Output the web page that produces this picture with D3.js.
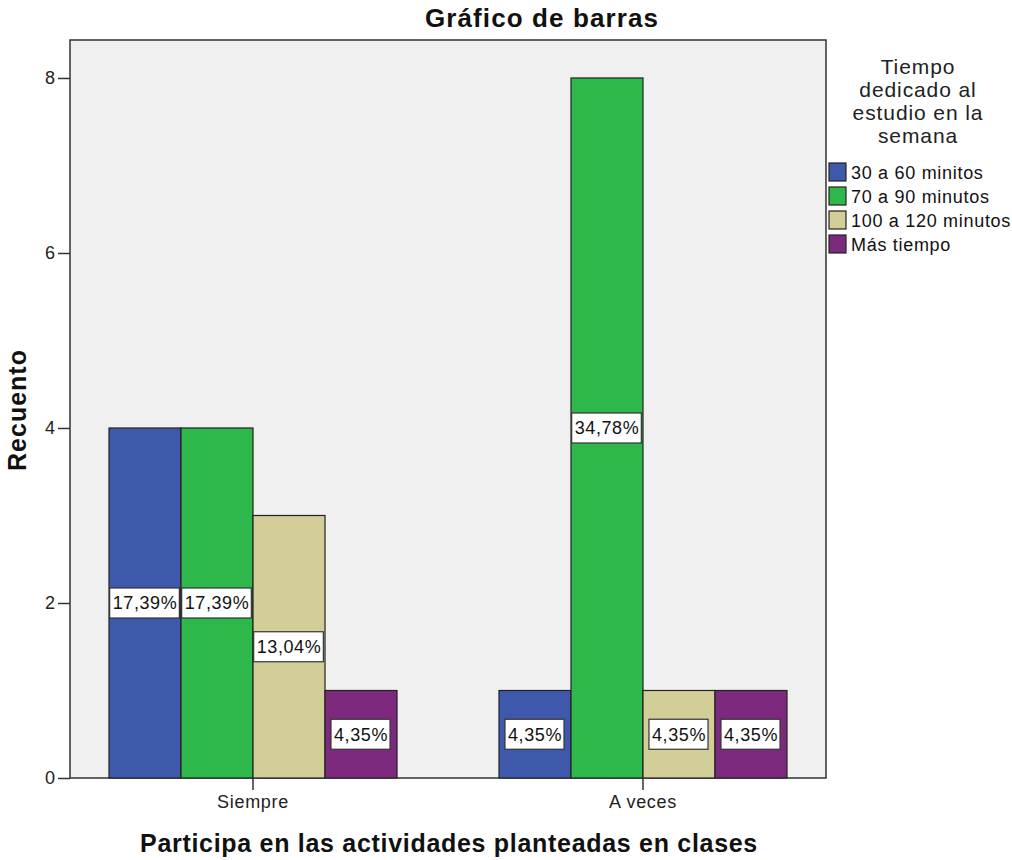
<!DOCTYPE html>
<html>
<head>
<meta charset="utf-8">
<script src="https://d3js.org/d3.v7.min.js"></script>
<style>
  body { margin: 0; background: #fff; }
  svg text { font-family: "Liberation Sans", Arial, sans-serif; }
</style>
</head>
<body>
<svg width="1012" height="860"></svg>
<script>
// categories on the x axis
const categories = ["Siempre", "A veces"];
// legend series
const seriesNames = ["30 a 60 minitos", "70 a  90 minutos", "100 a 120 minutos", "Más tiempo"];
const seriesColors = ["#3E58AC", "#2EB84B", "#D3CE97", "#7D2A7E"];
// counts per category, one array per series
const minitos30 = [4, 1];
const minutos70 = [4, 8];
const minutos100 = [3, 1];
const masTiempo = [1, 1];
const yTicks = [0, 2, 4, 6, 8];
const legendTitle = ["Tiempo", "dedicado al", "estudio en la", "semana"];

const seriesValues = [minitos30, minutos70, minutos100, masTiempo];
const total = d3.sum(seriesValues, s => d3.sum(s));

function main() {
    var svg = d3.select("svg");
    var left = 70, right = 826, top = 40, bottom = 778;

    var x = d3.scaleBand().domain(categories).range([left, right])
        .paddingInner(0.2615).paddingOuter(0.1);
    var xs = d3.scaleBand().domain(d3.range(seriesNames.length)).range([0, x.bandwidth()]);
    var y = d3.scaleLinear().domain([0, 8.434]).range([bottom, top]);

    // plot background
    svg.append("rect")
        .attr("x", left).attr("y", top)
        .attr("width", right - left).attr("height", bottom - top)
        .attr("fill", "#F0F0F0").attr("stroke", "#333").attr("stroke-width", 1.5);

    // bars
    var rows = [];
    seriesValues.forEach(function(vals, si) {
        vals.forEach(function(v, ci) {
            rows.push({ cat: categories[ci], s: si, v: v });
        });
    });

    svg.append("g").selectAll("rect")
        .data(rows).enter().append("rect")
        .attr("x", d => x(d.cat) + xs(d.s))
        .attr("y", d => y(d.v))
        .attr("width", xs.bandwidth())
        .attr("height", d => y(0) - y(d.v))
        .attr("fill", d => seriesColors[d.s])
        .attr("stroke", "#222").attr("stroke-width", 1.2);

    // percentage labels
    var fmt = d => (d.v / total * 100).toFixed(2).replace(".", ",") + "%";
    var labels = svg.append("g").selectAll("g")
        .data(rows).enter().append("g")
        .attr("transform", d => "translate(" + (x(d.cat) + xs(d.s) + xs.bandwidth() / 2) + "," + y(d.v / 2) + ")");
    labels.append("text")
        .attr("text-anchor", "middle").attr("dy", "0.36em")
        .attr("font-size", 18).attr("letter-spacing", 0.6).attr("fill", "#111")
        .text(fmt)
        .each(function() {
            var bb = this.getBBox();
            d3.select(this.parentNode).insert("rect", "text")
                .attr("x", bb.x - 3).attr("y", -15)
                .attr("width", bb.width + 5).attr("height", 30)
                .attr("fill", "#fff").attr("stroke", "#333").attr("stroke-width", 1.2);
        });

    // y axis
    var yAxis = svg.append("g").attr("transform", "translate(" + left + ",0)")
        .call(d3.axisLeft(y).tickValues(yTicks).tickSize(12).tickPadding(3));
    yAxis.select(".domain").remove();
    yAxis.selectAll("line").attr("stroke", "#333").attr("stroke-width", 1.5);
    yAxis.selectAll("text").attr("font-size", 18).attr("fill", "#222")
        .style("font-family", "'Liberation Sans', Arial, sans-serif");

    // x axis
    var xAxis = svg.append("g").attr("transform", "translate(0," + bottom + ")")
        .call(d3.axisBottom(x).tickSize(12).tickPadding(5));
    xAxis.select(".domain").remove();
    xAxis.selectAll("line").attr("stroke", "#333").attr("stroke-width", 1.5);
    xAxis.selectAll("text").attr("font-size", 18).attr("letter-spacing", 0.7).attr("fill", "#222")
        .style("font-family", "'Liberation Sans', Arial, sans-serif");

    // titles
    svg.append("text").attr("x", 542).attr("y", 27).attr("text-anchor", "middle")
        .attr("font-size", 26).attr("letter-spacing", 1.1)
        .attr("font-weight", "bold").attr("fill", "#111")
        .text("Gráfico de barras");
    svg.append("text").attr("x", 449).attr("y", 852).attr("text-anchor", "middle")
        .attr("font-size", 25).attr("letter-spacing", 0.7)
        .attr("font-weight", "bold").attr("fill", "#111")
        .text("Participa en las actividades planteadas en clases");
    svg.append("text").attr("transform", "translate(26,410) rotate(-90)")
        .attr("text-anchor", "middle")
        .attr("font-size", 25).attr("letter-spacing", 1)
        .attr("font-weight", "bold").attr("fill", "#111")
        .text("Recuento");

    // legend
    var lg = svg.append("g");
    lg.selectAll("text.lt").data(legendTitle).enter().append("text")
        .attr("class", "lt")
        .attr("x", 918).attr("y", (d, i) => 74 + i * 23)
        .attr("text-anchor", "middle").attr("font-size", 21).attr("letter-spacing", 0.9)
        .attr("fill", "#222")
        .text(d => d);
    var items = lg.selectAll("g.item").data(seriesNames).enter().append("g")
        .attr("class", "item")
        .attr("transform", (d, i) => "translate(829," + (163 + i * 24) + ")");
    items.append("rect").attr("width", 17).attr("height", 18)
        .attr("fill", (d, i) => seriesColors[i])
        .attr("stroke", "#222").attr("stroke-width", 1.2);
    items.append("text").attr("x", 22).attr("y", 16)
        .attr("font-size", 18).attr("letter-spacing", 0.7).attr("fill", "#111")
        .text(d => d);
}

main();
</script>
</body>
</html>
